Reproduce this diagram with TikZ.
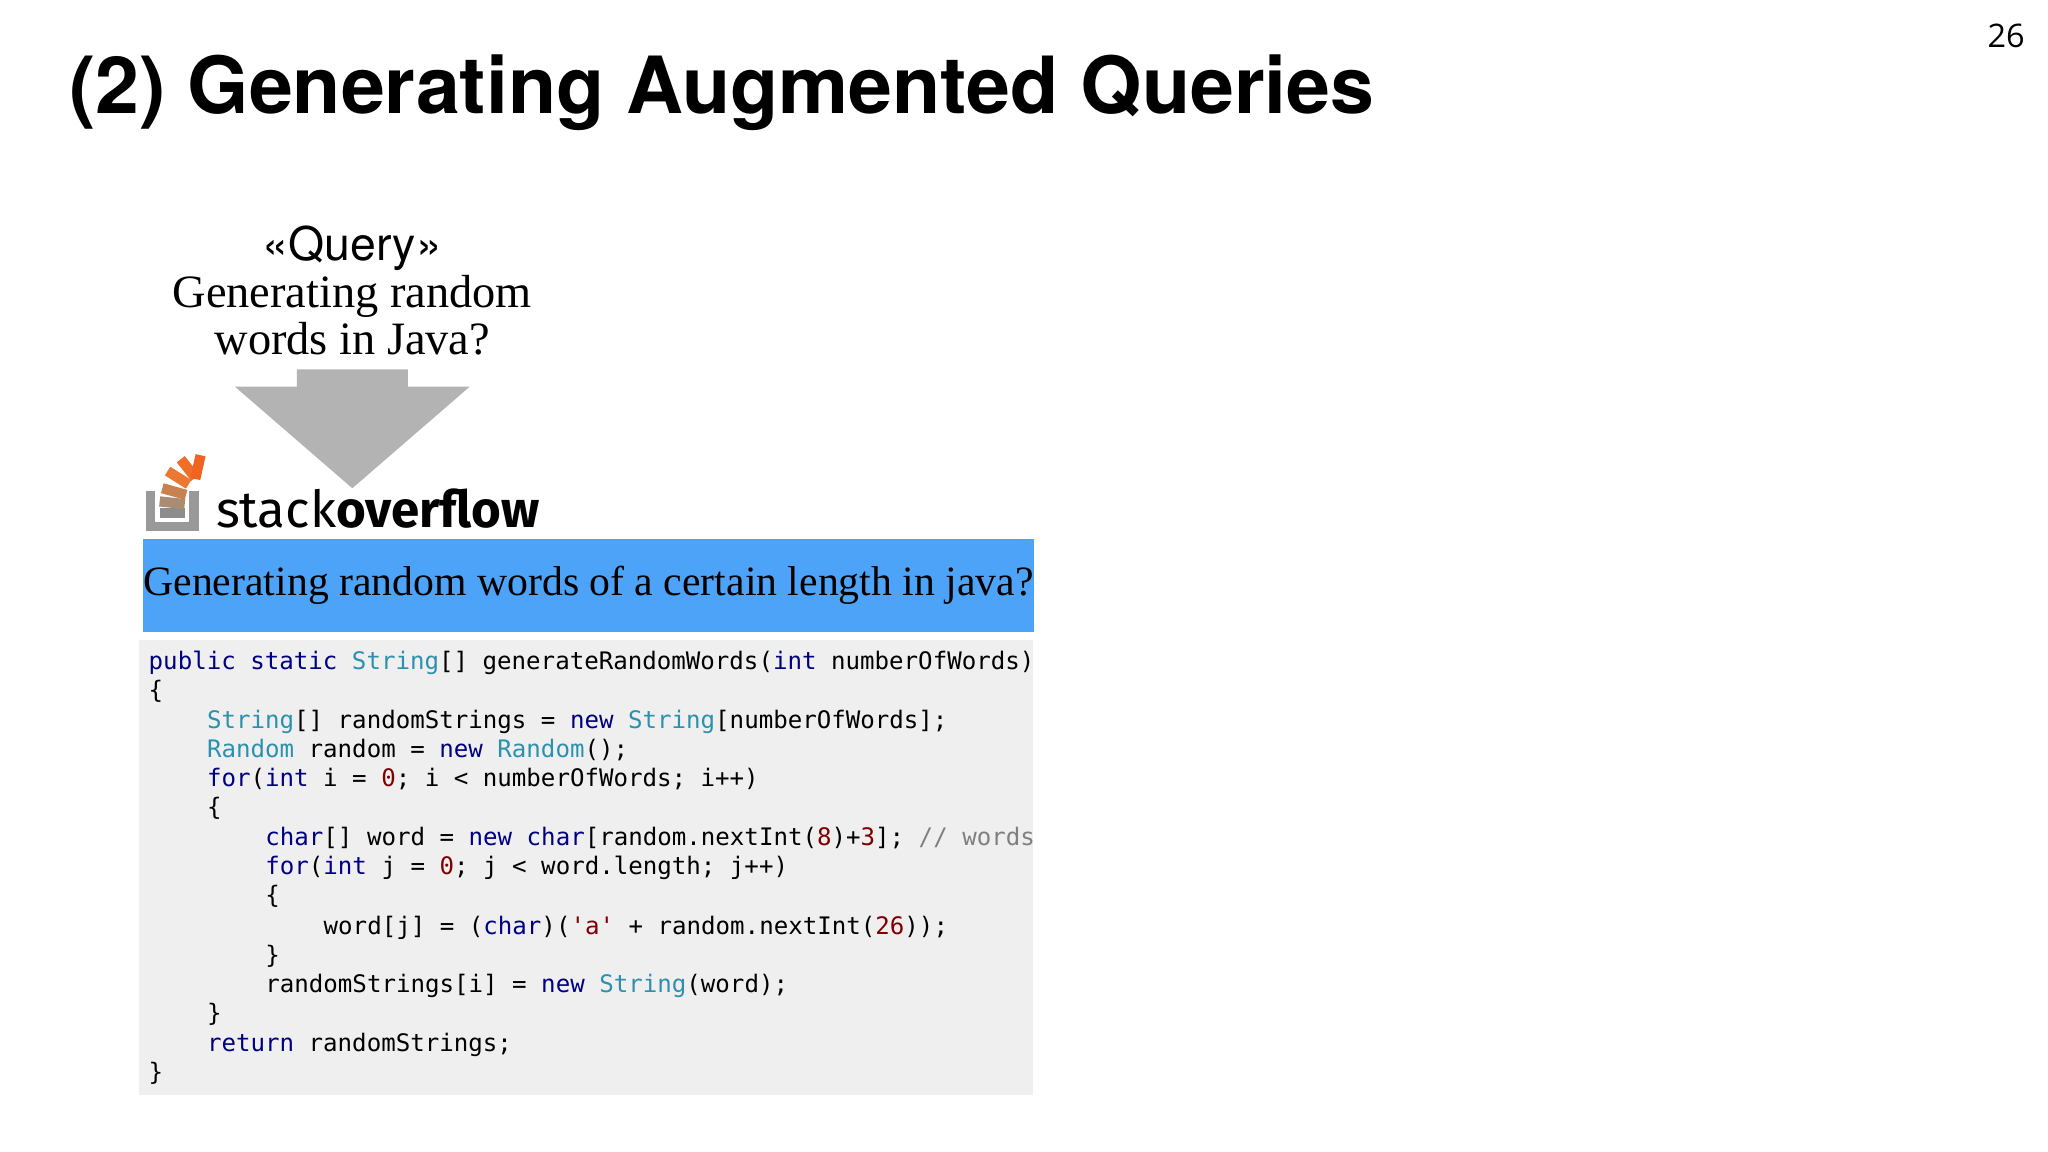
\documentclass[tikz,border=0pt]{standalone}
\usepackage{fontspec}
\setmainfont{Liberation Serif}
\setsansfont{TeX Gyre Heros}
\setmonofont{DejaVu Sans Mono}
\newfontfamily\sofont{Fira Sans}
\newfontfamily\numfont{Open Sans}
\definecolor{kw}{HTML}{000080}
\definecolor{ty}{HTML}{2B91AF}
\definecolor{nm}{HTML}{800000}
\definecolor{cm}{HTML}{808080}
\definecolor{bluebox}{HTML}{4DA3F7}
\definecolor{codebg}{HTML}{EFEFEF}
\definecolor{arrowgray}{HTML}{B3B3B4}
\newcommand{\K}[1]{\textcolor{kw}{#1}}
\newcommand{\T}[1]{\textcolor{ty}{#1}}
\newcommand{\N}[1]{\textcolor{nm}{#1}}
\begin{document}
\begin{tikzpicture}[
  codeline/.style={anchor=base west, inner sep=0pt, font=\fontsize{5.2pt}{6pt}\ttfamily},
  bar/.style={line width=2.2pt}
]
\useasboundingbox (0,0) rectangle (15.52,-8.73);
\node[anchor=base west, inner sep=0pt, font=\fontsize{17pt}{20pt}\sffamily\bfseries] (title) at (0.52,-0.86) {(2) Generating Augmented Queries};
\node[anchor=base east, inner sep=0pt, font=\fontsize{7pt}{8pt}\numfont] (pg) at (15.35,-0.36) {26};
\node[align=center, inner sep=0pt, font=\fontsize{10pt}{8.4pt}\selectfont] (query) at (2.67,-2.2)
  {{\sffamily <<Query>>}\\Generating random\\words in Java?};
\fill[arrowgray] (2.25,-2.80) -- (3.09,-2.80) -- (3.09,-2.93) -- (3.56,-2.93) -- (2.67,-3.70) -- (1.78,-2.93) -- (2.25,-2.93) -- cycle;
% logo
\draw[gray!80, line width=2pt] (1.14,-3.72) -- (1.14,-3.99) -- (1.47,-3.99) -- (1.47,-3.72);
\draw[bar, gray!90] (1.21,-3.89) -- (1.40,-3.89);
\draw[bar, color={rgb,255:red,170;green,140;blue,115}] (1.21,-3.80) -- (1.40,-3.82);
\draw[bar, color={rgb,255:red,200;green,130;blue,80}] (1.23,-3.70) -- (1.41,-3.75);
\draw[bar, color={rgb,255:red,235;green,120;blue,50}] (1.27,-3.57) -- (1.43,-3.67);
\draw[bar, color={rgb,255:red,240;green,110;blue,40}] (1.37,-3.48) -- (1.48,-3.62);
\draw[bar, color={rgb,255:red,240;green,100;blue,35}] (1.52,-3.45) -- (1.48,-3.63);
\node[anchor=base west, inner sep=0pt, font=\fontsize{11pt}{12pt}\sofont] (so) at (1.63,-4.00) {stack\textbf{overflow}};
\node[fill=bluebox, minimum width=6.59cm, minimum height=0.70cm, inner sep=0pt, anchor=north west,
  font=\fontsize{9pt}{10pt}\selectfont] (title2) at (1.08,-4.08) {Generating random words of a certain length in java?};
\fill[codebg] (1.05,-4.85) rectangle (7.83,-8.30);
\def\ind{0.442}
\node[codeline] (l1) at (1.12,-5.07) {\K{public} \K{static} \T{String}[] generateRandomWords(\K{int} numberOfWords)};
\node[codeline] (l2) at (1.12,-5.29) {\{};
\node[codeline] (l3) at (1.12+\ind,-5.52) {\T{String}[] randomStrings = \K{new} \T{String}[numberOfWords];};
\node[codeline] (l4) at (1.12+\ind,-5.74) {\T{Random} random = \K{new} \T{Random}();};
\node[codeline] (l5) at (1.12+\ind,-5.96) {\K{for}(\K{int} i = \N{0}; i < numberOfWords; i++)};
\node[codeline] (l6) at (1.12+\ind,-6.18) {\{};
\node[codeline] (l7) at (1.12+2*\ind,-6.41) {\K{char}[] word = \K{new} \K{char}[random.nextInt(\N{8})+\N{3}]; \textcolor{cm}{// words}};
\node[codeline] (l8) at (1.12+2*\ind,-6.63) {\K{for}(\K{int} j = \N{0}; j < word.length; j++)};
\node[codeline] (l9) at (1.12+2*\ind,-6.85) {\{};
\node[codeline] (l10) at (1.12+3*\ind,-7.08) {word[j] = (\K{char})(\N{'a'} + random.nextInt(\N{26}));};
\node[codeline] (l11) at (1.12+2*\ind,-7.30) {\}};
\node[codeline] (l12) at (1.12+2*\ind,-7.52) {randomStrings[i] = \K{new} \T{String}(word);};
\node[codeline] (l13) at (1.12+\ind,-7.74) {\}};
\node[codeline] (l14) at (1.12+\ind,-7.97) {\K{return} randomStrings;};
\node[codeline] (l15) at (1.12,-8.19) {\}};
\end{tikzpicture}
\end{document}
